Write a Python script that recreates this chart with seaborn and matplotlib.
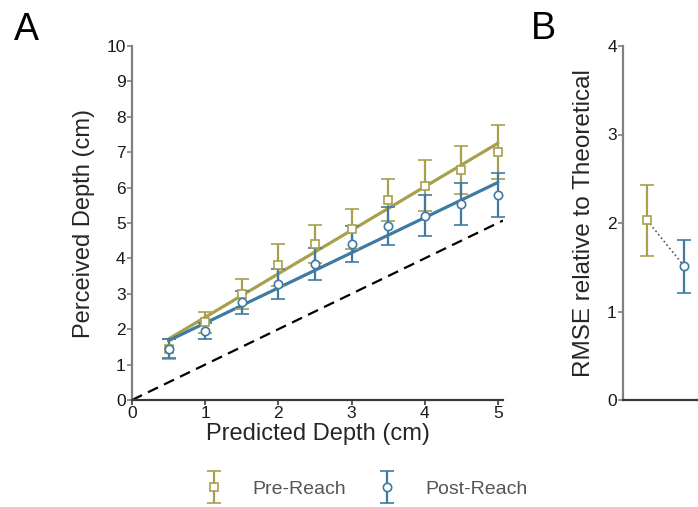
import numpy as np
import matplotlib
matplotlib.use("Agg")
import matplotlib.pyplot as plt
import seaborn as sns
from matplotlib.container import ErrorbarContainer
from matplotlib.legend_handler import HandlerErrorbar

# ---- data ----
predicted = [0.5, 1.0, 1.5, 2.0, 2.5, 3.0, 3.5, 4.0, 4.5, 5.0]
pre_reach = [1.44, 2.20, 2.99, 3.81, 4.41, 4.83, 5.65, 6.05, 6.50, 7.00]
pre_err = [0.27, 0.30, 0.43, 0.60, 0.53, 0.57, 0.60, 0.72, 0.68, 0.76]
post_reach = [1.45, 1.95, 2.76, 3.27, 3.83, 4.40, 4.92, 5.20, 5.54, 5.79]
post_err = [0.27, 0.23, 0.33, 0.42, 0.45, 0.51, 0.53, 0.58, 0.60, 0.63]

conditions = ["Pre-Reach", "Post-Reach"]
rmse = [2.03, 1.51]
rmse_err = [0.40, 0.30]

x_ticks = [0, 1, 2, 3, 4, 5]
y_ticks = list(range(0, 11))
rmse_ticks = [0, 1, 2, 3, 4]

# ---- style ----
sns.set_theme(style="ticks")
plt.rcParams["font.family"] = ["Liberation Sans", "DejaVu Sans"]

PRE_COLOR = "#A8A04C"
POST_COLOR = "#3E7AA2"
LEFT_SPINE = "#808080"
BOTTOM_SPINE = "#3a3a3a"

fig = plt.figure(figsize=(6.98, 5.07), dpi=100)
W, H = 698, 507

def px_axes(left, top, right, bottom):
    return fig.add_axes([left / W, 1 - bottom / H, (right - left) / W, (bottom - top) / H])

ax = px_axes(132, 46, 503, 400)
ax2 = px_axes(623, 46, 714, 400)

def style_axes(a):
    for s in ("top", "right"):
        a.spines[s].set_visible(False)
    a.spines["left"].set_color(LEFT_SPINE)
    a.spines["left"].set_linewidth(1.6)
    a.spines["bottom"].set_color(BOTTOM_SPINE)
    a.spines["bottom"].set_linewidth(1.6)
    a.tick_params(axis="y", colors=LEFT_SPINE, labelcolor="#1a1a1a",
                  length=3.5, width=1.2, labelsize=12.5, pad=1)
    a.tick_params(axis="x", colors=BOTTOM_SPINE, labelcolor="#1a1a1a",
                  length=3.5, width=1.2, labelsize=12.5, pad=1)

style_axes(ax)
style_axes(ax2)

# ---- panel A ----
ax.set_xlim(0, 5.07)
ax.set_ylim(0, 10)
ax.set_xticks(x_ticks)
ax.set_yticks(y_ticks)

# unity line
ax.plot([0, 5.07], [0, 5.07], ls=(0, (5, 3)), color="black", lw=1.6, zorder=1)

# linear fits
sns.regplot(x=predicted, y=pre_reach, scatter=False, ci=None, ax=ax,
            color=PRE_COLOR, line_kws=dict(lw=2.3, zorder=2))
sns.regplot(x=predicted, y=post_reach, scatter=False, ci=None, ax=ax,
            color=POST_COLOR, line_kws=dict(lw=2.3, zorder=2))

eb_kw = dict(linestyle="none", capsize=5, elinewidth=1.6, capthick=1.6,
             markerfacecolor="white", markeredgewidth=1.2, zorder=4, clip_on=False)
pre_h = ax.errorbar(predicted, pre_reach, yerr=pre_err, color=PRE_COLOR,
                    marker="s", markersize=6, label=conditions[0], **eb_kw)
post_h = ax.errorbar(predicted, post_reach, yerr=post_err, color=POST_COLOR,
                     marker="o", markersize=6, label=conditions[1], **eb_kw)

ax.set_xlabel("Predicted Depth (cm)", fontsize=17, labelpad=1)
ax.set_ylabel("Perceived Depth (cm)", fontsize=17, labelpad=8)

# ---- panel B ----
ax2.set_xlim(-0.65, 1.8)
ax2.set_ylim(0, 4)
ax2.set_yticks(rmse_ticks)
ax2.set_xticks([])
ax2.plot([0, 1], rmse, ls=":", color="#555555", lw=1.2, zorder=2)
ax2.errorbar([0], [rmse[0]], yerr=[rmse_err[0]], color=PRE_COLOR, marker="s",
             markersize=6, **eb_kw)
ax2.errorbar([1], [rmse[1]], yerr=[rmse_err[1]], color=POST_COLOR, marker="o",
             markersize=6, **eb_kw)
ax2.set_ylabel("RMSE relative to Theoretical", fontsize=17.5, labelpad=9)

# panel letters
fig.text(14 / W, 1 - 40 / H, "A", fontsize=27, color="black")
fig.text(531 / W, 1 - 39 / H, "B", fontsize=27, color="black")

# legend
leg = fig.legend(handles=[pre_h, post_h], labels=conditions, loc="center",
                 bbox_to_anchor=(365 / W, 1 - 489 / H), ncol=2, frameon=False,
                 fontsize=14, handlelength=1.2, handletextpad=1.4, columnspacing=1.5,
                 handler_map={ErrorbarContainer: HandlerErrorbar(xerr_size=0.8)})
for t in leg.get_texts():
    t.set_color("#555555")

fig.savefig("out.png", dpi=100)
